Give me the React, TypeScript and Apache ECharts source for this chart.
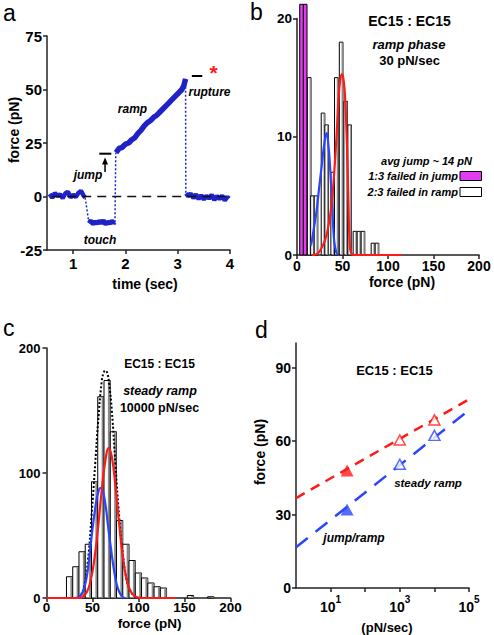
import React, { useEffect, useRef } from 'react';
import * as echarts from 'echarts';

const FONT = '"Liberation Sans", Arial, Helvetica, sans-serif';

// ---------- Panel a: force trace ----------
const tracePreT = [0.55, 0.6, 0.65, 0.7, 0.75, 0.8, 0.85, 0.9, 0.95, 1.0, 1.05, 1.1, 1.15, 1.2, 1.23];
const tracePreF = [1.2, -0.6, 1.6, 0.2, 1.0, -0.8, 1.4, 2.2, -0.4, 0.8, -0.2, 1.6, 2.6, 0.4, -0.5];
const traceDropT = [1.23, 1.3];
const traceDropF = [-0.5, -12];
const traceTouchT = [1.3, 1.34, 1.38, 1.42, 1.46, 1.5, 1.54, 1.58, 1.62, 1.66, 1.7, 1.74, 1.78, 1.8];
const traceTouchF = [-12.5, -11.2, -13, -11.6, -12.8, -11.3, -12.6, -11.1, -13.1, -11.7, -12.7, -11.4, -12.4, -12];
const traceJumpT = [1.8, 1.815];
const traceJumpF = [-12, 20.5];
const traceRampT = [1.82, 1.88, 1.94, 2.0, 2.06, 2.12, 2.18, 2.24, 2.3, 2.36, 2.42, 2.48, 2.54, 2.6, 2.66, 2.72, 2.78, 2.84, 2.9, 2.96, 3.02, 3.08, 3.12, 3.15];
const traceRampF = [20.5, 22.5, 23, 24.5, 25, 26.5, 27.5, 29.5, 31, 33, 34.5, 35.5, 37, 38, 39.5, 41, 42.5, 44, 45.5, 47, 48.5, 50, 52, 55];
const traceRuptT = [3.15, 3.155];
const traceRuptF = [55, 0.5];
const tracePostT = [3.16, 3.2, 3.25, 3.3, 3.35, 3.4, 3.45, 3.5, 3.55, 3.6, 3.65, 3.7, 3.75, 3.8, 3.85, 3.9, 3.95, 3.98];
const tracePostF = [1.5, 0.2, 1.4, -0.8, 1.0, -1.2, 0.6, -1.4, 0.4, -1.0, 0.8, -1.6, 0.2, -1.2, 0.4, -1.8, -0.2, -1.0];
const zeroLineT = [0.6, 4];
const aXTicks = [1, 2, 3, 4];

// ---------- Panel b: ramp phase histogram ----------
const bJumpCenters = [5, 9];
const bJumpCounts = [21.2, 21.2]; // truncated at top
const bRampCenters = [13.4, 17, 20.9, 28.6, 32.6, 39.2, 43.2, 48.5, 53.5, 57.9, 63.7, 68.1, 72.5, 83.5, 87.9];
const bRampCounts = [15, 5, 5, 12, 11, 7, 15, 18, 13, 11, 2, 2, 2, 1, 1];
const bBinWidth = 4;
const bBlueX = [15.4, 18, 21.6, 24.5, 27.1, 30, 32.6, 34.5, 36.3, 38.8, 40.5, 41.8, 44];
const bBlueY = [0.8, 2, 3.8, 5.8, 7.5, 9.4, 10.3, 9.3, 7.5, 3.8, 1.5, 0.7, 0];
const bRedX = [16.5, 22, 27, 31, 34.4, 37.5, 40, 43.6, 45.5, 47.5, 49.5, 51.5, 53, 55, 56.5, 58, 60, 65, 115];
const bRedY = [0, 0.1, 0.6, 1.3, 2.4, 4, 6, 10.3, 13, 14.8, 15.3, 14.6, 13, 9, 4.6, 1, 0.1, 0, 0];

// ---------- Panel c: steady ramp histogram ----------
const cCenters = [25.1, 31.9, 38.7, 45.5, 52.3, 59.1, 65.9, 72.7, 79.5, 86.3, 93.1, 99.9, 106.7, 113.5, 120.3, 127.1, 156.5, 178.5];
const cCounts = [17, 25, 37, 43, 93, 161, 174, 133, 62, 43, 30, 20, 16, 12, 9, 8, 2, 1];
const cBinWidth = 6.8;
const cBlueX = [33, 37, 41, 45, 49, 53, 56, 58.7, 61, 64, 67, 70, 73, 76, 79, 82, 85];
const cBlueY = [0, 2, 8, 23, 49, 72, 84, 88, 86, 75, 57, 40, 24, 12, 5, 1.5, 0];
const cRedX = [0, 36, 40, 44, 48, 52, 56, 60, 64, 67.7, 71, 75, 79, 83, 87, 91, 95, 100, 105, 140];
const cRedY = [0, 0, 1.5, 5, 14, 31, 56, 86, 110, 120, 113, 89, 59, 33, 15, 6, 2, 0.3, 0, 0];
const cSumX = [30, 37, 41, 45, 49, 53, 56, 60, 62, 64, 66, 68, 71, 75, 79, 83, 87, 91, 95, 100];
const cSumY = [0, 2, 10, 30, 66, 108, 140, 173, 180, 182, 180, 172, 150, 106, 65, 35, 15, 6, 2, 0];

// ---------- Panel d: force vs loading rate ----------
const dJumpRate = [30];
const dJumpRed = [48];
const dJumpBlue = [32];
const dSteadyRate = [1000, 10000];
const dSteadyRed = [60.4, 68.6];
const dSteadyBlue = [50.5, 62.3];
const dRedFitX = [1, 100000];
const dRedFitY = [36.7, 77];
const dBlueFitX = [1, 87000];
const dBlueFitY = [16.6, 71.9];

const BLUE_TRACE = '#1f22c8';
const RED = '#ff1a1a';
const BLUE = '#2a45ff';
const MAGENTA = '#e23cf0';

const zip = (xs: number[], ys: number[]) => xs.map((x, i) => [x, ys[i]]);

const axisBase = (fontSize: number, margin = 6, lineHeight?: number) => ({
  axisLine: { show: true, onZero: false, lineStyle: { color: '#222', width: 1.5 } },
  axisTick: { show: true, length: 4, lineStyle: { color: '#222', width: 1.5 } },
  axisLabel: {
    color: '#000', fontWeight: 'bold' as const, fontSize, fontFamily: FONT, margin,
    ...(lineHeight ? { lineHeight } : {}),
  },
  splitLine: { show: false },
});

const histRender = (fill: string, shade: boolean, width: number) => (params: any, api: any) => {
  const c = api.value(0);
  const h = api.value(1);
  const p0 = api.coord([c - width / 2, h]);
  const p1 = api.coord([c + width / 2, 0]);
  const x = p0[0];
  const y = p0[1];
  const w = p1[0] - p0[0];
  const hh = p1[1] - p0[1];
  const children: any[] = [
    { type: 'rect', shape: { x, y, width: w, height: hh }, style: { fill, stroke: '#000', lineWidth: 1 } },
  ];
  if (shade) {
    children.push({ type: 'rect', shape: { x: x + w * 0.62, y: y + 0.5, width: w * 0.38, height: hh - 0.5 }, style: { fill: '#8c8c8c' } });
  }
  return { type: 'group', children };
};

const lineSeries = (xi: number, data: number[][], color: string, width: number, type: any = 'solid', smooth = false, z = 3) => ({
  type: 'line',
  xAxisIndex: xi,
  yAxisIndex: xi,
  data,
  showSymbol: false,
  symbol: 'none',
  smooth,
  z,
  lineStyle: { color, width, type },
  silent: true,
});

function buildOption(): any {
  return {
    animation: false,
    backgroundColor: '#fff',
    textStyle: { fontFamily: FONT },
    grid: [
      { left: 47, top: 36, width: 183, height: 214 },
      { left: 297, top: 18.5, width: 182, height: 236.5 },
      { left: 46.5, top: 348, width: 184, height: 250 },
      { left: 296, top: 343, width: 173, height: 245 },
    ],
    xAxis: [
      {
        gridIndex: 0, type: 'value', min: 0.5, max: 4,
        ...axisBase(15, 6),
        axisTick: { show: true, length: 4, customValues: aXTicks, lineStyle: { color: '#222', width: 1.5 } },
        axisLabel: { color: '#000', fontWeight: 'bold', fontSize: 15, fontFamily: FONT, margin: 6, customValues: aXTicks },
      },
      { gridIndex: 1, type: 'value', min: 0, max: 200, interval: 50, ...axisBase(14, 4) },
      { gridIndex: 2, type: 'value', min: 0, max: 200, interval: 50, ...axisBase(13.5, 3, 12) },
      {
        gridIndex: 3, type: 'log', logBase: 10, min: 1, max: 100000,
        ...axisBase(13, 5),
        axisTick: { show: true, length: 4, customValues: [10, 100, 1000, 10000, 100000], lineStyle: { color: '#222', width: 1.5 } },
        axisLabel: {
          color: '#000', margin: 6, customValues: [10, 1000, 100000],
          formatter: (v: number) => `{b|10}{s|${Math.round(Math.log10(v))}}`,
          rich: {
            b: { fontSize: 14, fontWeight: 'bold', fontFamily: FONT, lineHeight: 20, verticalAlign: 'bottom' },
            s: { fontSize: 10, fontWeight: 'bold', fontFamily: FONT, lineHeight: 10, verticalAlign: 'top' },
          },
        },
      },
    ],
    yAxis: [
      { gridIndex: 0, type: 'value', min: -25, max: 75, interval: 25, ...axisBase(15, 5) },
      { gridIndex: 1, type: 'value', min: 0, max: 20, interval: 10, ...axisBase(13.5, 5) },
      { gridIndex: 2, type: 'value', min: 0, max: 200, interval: 100, ...axisBase(13, 6) },
      {
        gridIndex: 3, type: 'value', min: 0, max: 100,
        ...axisBase(14, 5),
        axisTick: { show: true, length: 4, customValues: [0, 30, 60, 90], lineStyle: { color: '#222', width: 1.5 } },
        axisLabel: { color: '#000', fontWeight: 'bold', fontSize: 14, fontFamily: FONT, margin: 5, customValues: [0, 30, 60, 90] },
      },
    ],
    series: [
      // panel a
      lineSeries(0, zip(tracePreT, tracePreF), BLUE_TRACE, 4.5),
      lineSeries(0, zip(traceDropT, traceDropF), BLUE_TRACE, 1.5, [2, 2]),
      lineSeries(0, zip(traceTouchT, traceTouchF), BLUE_TRACE, 4.5),
      lineSeries(0, zip(traceJumpT, traceJumpF), BLUE_TRACE, 1.5, [2, 2]),
      lineSeries(0, zip(traceRampT, traceRampF), BLUE_TRACE, 5.5),
      lineSeries(0, zip(traceRuptT, traceRuptF), BLUE_TRACE, 1.5, [2, 2]),
      lineSeries(0, zip(tracePostT, tracePostF), BLUE_TRACE, 4.5),
      lineSeries(0, zip(zeroLineT, [0, 0]), '#111', 1.5, [9, 6], false, 5),
      // panel b
      {
        type: 'custom', xAxisIndex: 1, yAxisIndex: 1, clip: false, z: 2,
        renderItem: histRender(MAGENTA, false, bBinWidth),
        data: zip(bJumpCenters, bJumpCounts), silent: true,
      },
      {
        type: 'custom', xAxisIndex: 1, yAxisIndex: 1, z: 2,
        renderItem: histRender('#fff', true, bBinWidth),
        data: zip(bRampCenters, bRampCounts), silent: true,
      },
      lineSeries(1, zip(bBlueX, bBlueY), BLUE, 2.2, 'solid', true, 4),
      lineSeries(1, zip(bRedX, bRedY), RED, 2.2, 'solid', true, 4),
      // panel c
      {
        type: 'custom', xAxisIndex: 2, yAxisIndex: 2, z: 2,
        renderItem: histRender('#fff', true, cBinWidth),
        data: zip(cCenters, cCounts), silent: true,
      },
      lineSeries(2, zip(cSumX, cSumY), '#000', 2, [2, 2], true, 4),
      lineSeries(2, zip(cBlueX, cBlueY), BLUE, 2.2, 'solid', true, 4),
      lineSeries(2, zip(cRedX, cRedY), RED, 2.2, 'solid', true, 4),
      // panel d
      lineSeries(3, zip(dRedFitX, dRedFitY), RED, 2.5, [10, 7], false, 3),
      lineSeries(3, zip(dBlueFitX, dBlueFitY), BLUE, 2.5, [15, 10], false, 3),
      {
        type: 'scatter', xAxisIndex: 3, yAxisIndex: 3, symbol: 'triangle', symbolSize: [13, 12], z: 5,
        data: zip(dJumpRate, dJumpRed), itemStyle: { color: RED }, silent: true,
      },
      {
        type: 'scatter', xAxisIndex: 3, yAxisIndex: 3, symbol: 'triangle', symbolSize: [13, 12], z: 5,
        data: zip(dJumpRate, dJumpBlue), itemStyle: { color: BLUE }, silent: true,
      },
      {
        type: 'scatter', xAxisIndex: 3, yAxisIndex: 3, symbol: 'triangle', symbolSize: [11, 10], z: 5,
        data: zip(dSteadyRate, dSteadyRed), itemStyle: { color: '#fff', borderColor: RED, borderWidth: 1.5 }, silent: true,
      },
      {
        type: 'scatter', xAxisIndex: 3, yAxisIndex: 3, symbol: 'triangle', symbolSize: [11, 10], z: 5,
        data: zip(dSteadyRate, dSteadyBlue), itemStyle: { color: '#fff', borderColor: BLUE, borderWidth: 1.5 }, silent: true,
      },
    ],
  };
}

const txt = (text: string, x: number, y: number, font: string, extra: any = {}) => ({
  type: 'text',
  x,
  y,
  rotation: extra.rotation || 0,
  z: 100,
  silent: true,
  style: {
    text,
    font,
    fill: extra.fill || '#000',
    align: extra.align || 'center',
    verticalAlign: 'middle',
    ...(extra.lineHeight ? { lineHeight: extra.lineHeight } : {}),
  },
});

const B = (s: number) => `bold ${s}px ${FONT}`;
const BI = (s: number) => `italic bold ${s}px ${FONT}`;
const N = (s: number) => `${s}px ${FONT}`;

export default function App() {
  const ref = useRef<HTMLDivElement>(null);
  useEffect(() => {
    document.body.style.margin = '0';
    const chart = echarts.init(ref.current!, null, { renderer: 'svg' });
    chart.setOption(buildOption());
    const p = (g: number, pt: number[]) => chart.convertToPixel({ gridIndex: g } as any, pt) as number[];

    const jb0 = p(0, [1.5, 20]);
    const jb1 = p(0, [1.73, 20]);
    const ar0 = p(0, [1.61, 11.5]);
    const ar1 = p(0, [1.61, 18.2]);
    const rd0 = p(0, [3.27, 56.3]);
    const rd1 = p(0, [3.47, 56.3]);
    const ast = p(0, [3.685, 57.8]);

    const graphic: any[] = [
      // panel letters
      txt('a', 3, 13, N(23), { align: 'left' }),
      txt('b', 250, 12, N(23), { align: 'left' }),
      txt('c', 3, 328, N(23), { align: 'left' }),
      txt('d', 255, 330, N(23), { align: 'left' }),
      // panel a
      txt('force (pN)', 14, 130, B(14), { rotation: Math.PI / 2 }),
      txt('time (sec)', 145, 284, B(14)),
      txt('jump', 88, 175, BI(12)),
      txt('touch', 100, 240, BI(12)),
      txt('ramp', 132.5, 109, BI(12)),
      txt('rupture', 209.5, 92, BI(12)),
      { type: 'line', z: 100, shape: { x1: jb0[0], y1: jb0[1], x2: jb1[0], y2: jb1[1] }, style: { stroke: '#000', lineWidth: 2 } },
      { type: 'line', z: 100, shape: { x1: ar0[0], y1: ar0[1], x2: ar1[0], y2: ar1[1] + 5 }, style: { stroke: '#000', lineWidth: 1.5 } },
      { type: 'polygon', z: 100, shape: { points: [[ar1[0], ar1[1]], [ar1[0] - 3, ar1[1] + 7], [ar1[0] + 3, ar1[1] + 7]] }, style: { fill: '#000' } },
      { type: 'line', z: 100, shape: { x1: rd0[0], y1: rd0[1], x2: rd1[0], y2: rd1[1] }, style: { stroke: '#000', lineWidth: 2 } },
      txt('*', ast[0], ast[1], B(21), { fill: RED, lineHeight: 8 }),
      // panel b
      txt('EC15 : EC15', 409.5, 21, B(14)),
      txt('ramp phase', 409, 44.5, BI(13)),
      txt('30 pN/sec', 409.5, 60, B(13)),
      txt('avg jump ~ 14 pN', 426.5, 161, BI(11)),
      txt('1:3 failed in jump', 458, 176, BI(11), { align: 'right' }),
      txt('2:3 failed in ramp', 458, 192, BI(11), { align: 'right' }),
      { type: 'rect', z: 100, shape: { x: 460, y: 171.5, width: 21.5, height: 9 }, style: { fill: MAGENTA, stroke: '#000', lineWidth: 1 } },
      { type: 'rect', z: 100, shape: { x: 460, y: 187.5, width: 21.5, height: 9 }, style: { fill: '#fff', stroke: '#000', lineWidth: 1 } },
      txt('force (pN)', 402, 282, B(14)),
      // panel c
      txt('EC15 : EC15', 159.5, 364, B(12)),
      txt('steady ramp', 160, 391, BI(12.5)),
      txt('10000 pN/sec', 159.5, 408, B(12.5)),
      txt('force (pN)', 149.5, 623.5, B(13.5), { lineHeight: 12 }),
      // panel d
      txt('force (pN)', 260, 452, B(14), { rotation: Math.PI / 2 }),
      txt('(pN/sec)', 387, 627, B(13)),
      txt('EC15 : EC15', 394.5, 370, B(13)),
      txt('steady ramp', 428, 483, BI(11.5)),
      txt('jump/ramp', 354, 538, BI(12)),
    ];
    chart.setOption({ graphic });
    return () => chart.dispose();
  }, []);
  return <div ref={ref} style={{ width: 494, height: 635 }} />;
}
